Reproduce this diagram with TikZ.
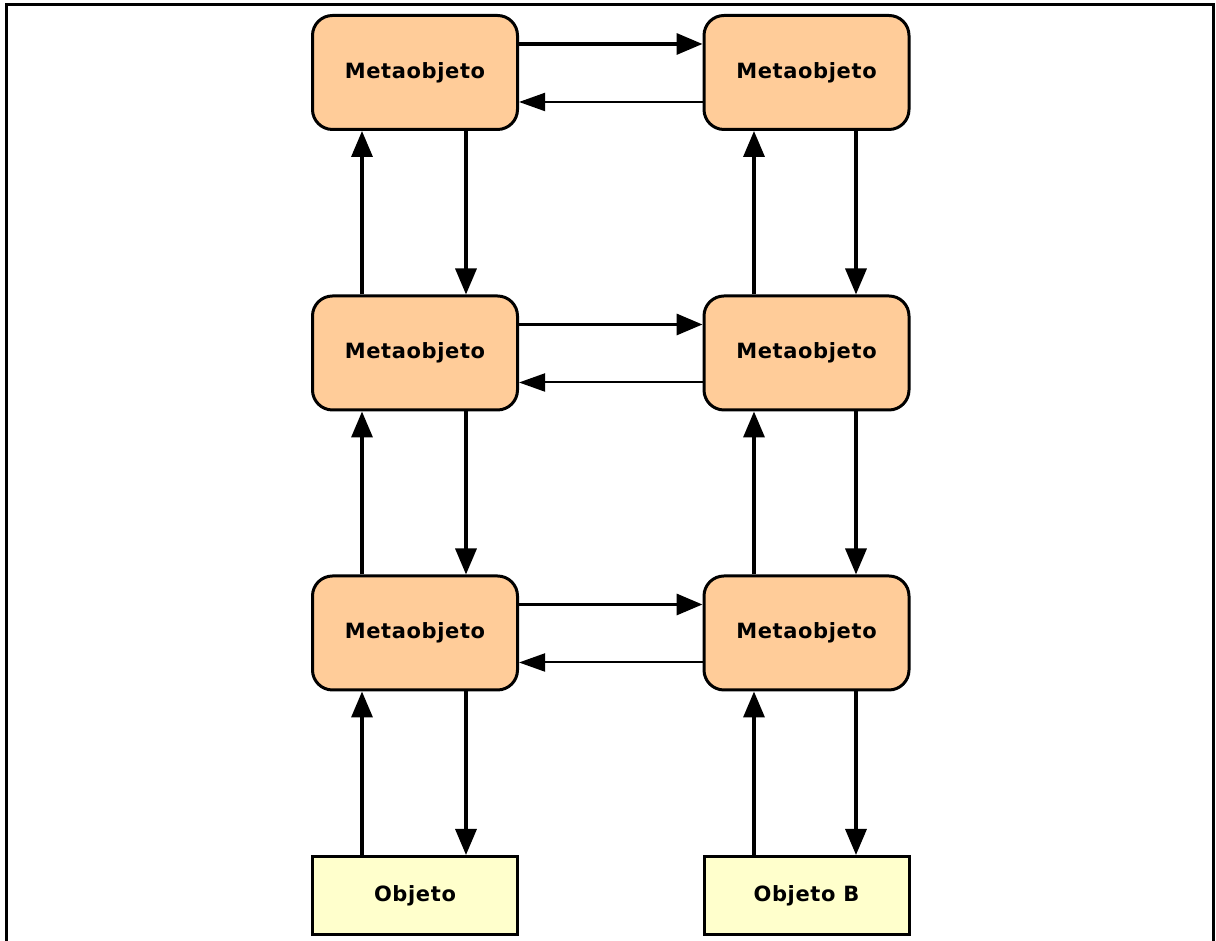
\documentclass[tikz,border=0pt]{standalone}
\usepackage{fontspec}
\setmainfont{DejaVu Sans}
\newfontfamily\labelfont[LetterSpace=3]{DejaVu Sans Bold}
\usetikzlibrary{arrows.meta}
\definecolor{metafill}{HTML}{FFCC99}
\definecolor{objfill}{HTML}{FFFFCC}
\tikzset{
  metabox/.style={draw=black, line width=3pt, fill=metafill, rounded corners=20pt,
    minimum width=205pt, minimum height=114pt, inner sep=0pt,
    font=\labelfont\fontsize{21}{25}\selectfont},
  objbox/.style={draw=black, line width=3pt, fill=objfill,
    minimum width=205pt, minimum height=78pt, inner sep=0pt,
    font=\labelfont\fontsize{21}{25}\selectfont},
  fwd/.style={line width=3.4pt, -{Triangle[length=26pt,width=21pt]}},
  back/.style={line width=2pt, -{Triangle[length=26pt,width=18pt]}},
}
\begin{document}
\begin{tikzpicture}[x=1pt,y=1pt]
\useasboundingbox (0,0) rectangle (1216,941);
% outer frame, open at the bottom edge
\draw[line width=3pt] (6,-10) -- (6,936) -- (1213,936) -- (1213,-10);

% meta levels, two columns
\node[metabox] (m11) at (415,868.5) {Metaobjeto};
\node[metabox] (m12) at (806.5,868.5) {Metaobjeto};
\node[metabox] (m21) at (415,588) {Metaobjeto};
\node[metabox] (m22) at (806.5,588) {Metaobjeto};
\node[metabox] (m31) at (415,308) {Metaobjeto};
\node[metabox] (m32) at (806.5,308) {Metaobjeto};
% base objects
\node[objbox] (o1) at (415,45.5) {Objeto};
\node[objbox] (o2) at (806.5,45.5) {Objeto B};

% horizontal links between the columns
\foreach \r in {1,2,3}{
  \draw[fwd] ([yshift=28.5pt]m\r1.east) -- ([yshift=28.5pt]m\r2.west);
  \draw[back] ([yshift=-29.5pt]m\r2.west) -- ([yshift=-29.5pt]m\r1.east);
}

% vertical links, left column
\draw[fwd] ([xshift=-53pt]m21.north) -- ([xshift=-53pt]m11.south);
\draw[fwd] ([xshift=51pt]m11.south) -- ([xshift=51pt]m21.north);
\draw[fwd] ([xshift=-53pt]m31.north) -- ([xshift=-53pt]m21.south);
\draw[fwd] ([xshift=51pt]m21.south) -- ([xshift=51pt]m31.north);
\draw[fwd] ([xshift=-53pt]o1.north) -- ([xshift=-53pt]m31.south);
\draw[fwd] ([xshift=51pt]m31.south) -- ([xshift=51pt]o1.north);

% vertical links, right column
\draw[fwd] ([xshift=-52.5pt]m22.north) -- ([xshift=-52.5pt]m12.south);
\draw[fwd] ([xshift=49.5pt]m12.south) -- ([xshift=49.5pt]m22.north);
\draw[fwd] ([xshift=-52.5pt]m32.north) -- ([xshift=-52.5pt]m22.south);
\draw[fwd] ([xshift=49.5pt]m22.south) -- ([xshift=49.5pt]m32.north);
\draw[fwd] ([xshift=-52.5pt]o2.north) -- ([xshift=-52.5pt]m32.south);
\draw[fwd] ([xshift=49.5pt]m32.south) -- ([xshift=49.5pt]o2.north);
\end{tikzpicture}
\end{document}
